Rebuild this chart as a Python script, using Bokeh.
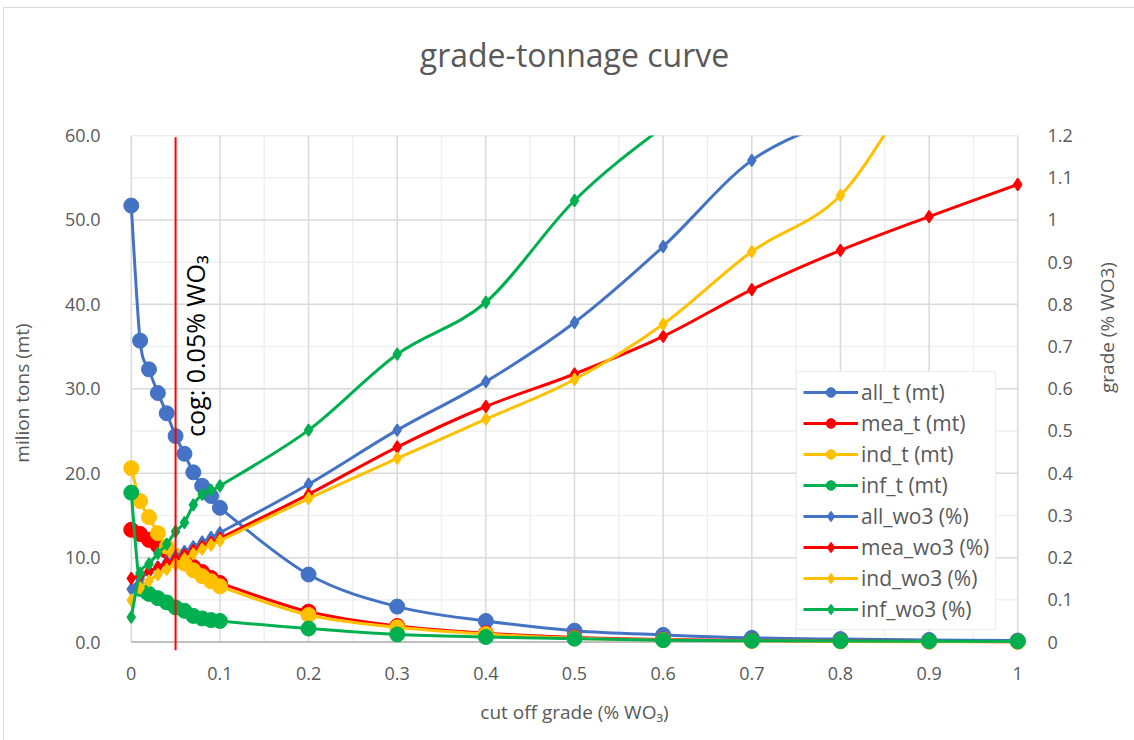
import math
from bokeh.plotting import figure
from bokeh.models import (Range1d, LinearAxis, FixedTicker, CustomJSTickFormatter,
                          ColumnDataSource, Legend, LegendItem, Label, Arrow)
from bokeh.embed import file_html
from bokeh.resources import INLINE

# cut-off grades (% WO3)
cutoff = [0, 0.01, 0.02, 0.03, 0.04, 0.05, 0.06, 0.07, 0.08, 0.09, 0.1,
          0.2, 0.3, 0.4, 0.5, 0.6, 0.7, 0.8, 0.9, 1.0]

# tonnage above cut-off (million tons)
all_t = [51.7, 35.7, 32.3, 29.5, 27.1, 24.4, 22.3, 20.1, 18.5, 17.3, 15.9,
         8.0, 4.2, 2.5, 1.35, 0.85, 0.5, 0.35, 0.25, 0.18]
mea_t = [13.3, 12.8, 12.1, 11.4, 10.8, 10.1, 9.5, 8.9, 8.3, 7.6, 7.0,
         3.6, 1.9, 1.05, 0.55, 0.3, 0.18, 0.12, 0.08, 0.05]
ind_t = [20.6, 16.7, 14.8, 12.9, 11.3, 10.2, 9.3, 8.5, 7.8, 7.2, 6.6,
         3.2, 1.75, 0.95, 0.45, 0.25, 0.12, 0.08, 0.05, 0.03]
inf_t = [17.7, 6.3, 5.7, 5.2, 4.7, 4.1, 3.7, 3.1, 2.8, 2.6, 2.5,
         1.6, 0.9, 0.6, 0.4, 0.22, 0.15, 0.12, 0.1, 0.08]

# mean grade above cut-off (% WO3)
all_wo3 = [0.125, 0.15, 0.165, 0.178, 0.19, 0.203, 0.215, 0.226, 0.237, 0.248, 0.259,
           0.374, 0.502, 0.617, 0.757, 0.937, 1.141, 1.24, 1.31, 1.38]
mea_wo3 = [0.151, 0.158, 0.168, 0.177, 0.187, 0.197, 0.207, 0.217, 0.227, 0.236, 0.246,
           0.35, 0.462, 0.558, 0.635, 0.724, 0.835, 0.928, 1.008, 1.084]
ind_wo3 = [0.099, 0.128, 0.145, 0.16, 0.172, 0.185, 0.197, 0.209, 0.22, 0.23, 0.24,
           0.34, 0.435, 0.528, 0.622, 0.753, 0.925, 1.058, 1.35, 1.5]
inf_wo3 = [0.059, 0.163, 0.185, 0.21, 0.232, 0.262, 0.283, 0.325, 0.35, 0.36, 0.37,
           0.502, 0.682, 0.805, 1.046, 1.22, 1.36, 1.48, 1.6, 1.7]

x_ticks = [0, 0.1, 0.2, 0.3, 0.4, 0.5, 0.6, 0.7, 0.8, 0.9, 1.0]
x_minor = [0.05, 0.15, 0.25, 0.35, 0.45, 0.55, 0.65, 0.75, 0.85, 0.95]
t_ticks = [0, 10, 20, 30, 40, 50, 60]
t_minor = [5, 15, 25, 35, 45, 55]
g_ticks = [0, 0.1, 0.2, 0.3, 0.4, 0.5, 0.6, 0.7, 0.8, 0.9, 1.0, 1.1, 1.2]

cog = 0.05

BLUE, RED, YELLOW, GREEN = "#4472C4", "#FF0000", "#FFC000", "#00B050"
TXT = "#595959"
FONT = "Open Sans"

# a little room outside 0..1 and below 0 so edge markers are drawn whole
XPAD, TPAD = 0.011, 1.0
GPAD = TPAD * g_ticks[-1] / t_ticks[-1]

p = figure(width=1131, height=733, margin=(7, 0, 0, 3),
           x_range=Range1d(x_ticks[0] - XPAD, x_ticks[-1] + XPAD),
           y_range=Range1d(t_ticks[0] - TPAD, t_ticks[-1]),
           output_backend="svg", toolbar_location=None,
           min_border_left=117, min_border_right=108,
           min_border_top=127, min_border_bottom=91)
p.styles = {"border-top": "1px solid #d9d9d9", "border-left": "1px solid #d9d9d9"}
p.extra_y_ranges = {"grade": Range1d(g_ticks[0] - GPAD, g_ticks[-1])}
p.outline_line_color = None
p.background_fill_color = "white"
p.border_fill_color = "white"

xaxis = p.below[0]
yaxis = p.left[0]

# chart heading, carried by a tick-less axis above the plot area
head = LinearAxis(ticker=FixedTicker(ticks=[]), axis_label="grade-tonnage curve")
p.add_layout(head, "above")

# axes
xaxis.ticker = FixedTicker(ticks=x_ticks, minor_ticks=x_minor)
yaxis.ticker = FixedTicker(ticks=t_ticks, minor_ticks=t_minor)
xaxis.formatter = CustomJSTickFormatter(code="return String(Number(tick.toFixed(2)));")
yaxis.formatter = CustomJSTickFormatter(code="return tick.toFixed(1);")

raxis = LinearAxis(y_range_name="grade",
                   ticker=FixedTicker(ticks=g_ticks),
                   formatter=CustomJSTickFormatter(code="return String(Number(tick.toFixed(2)));"))
p.add_layout(raxis, "right")

xaxis.axis_label = "cut off grade (% WO\u2083)"
yaxis.axis_label = "milion tons (mt)"
raxis.axis_label = "grade (% WO3)"
if "axis_label_orientation" in raxis.properties():
    raxis.axis_label_orientation = math.pi / 2

for ax in (xaxis, yaxis, raxis, head):
    ax.major_tick_line_color = None
    ax.minor_tick_line_color = None
    ax.axis_line_color = None
    ax.major_label_text_font = FONT
    ax.major_label_text_font_size = "18px"
    ax.major_label_text_color = TXT
    ax.axis_label_text_font = FONT
    ax.axis_label_text_font_size = "19px"
    ax.axis_label_text_font_style = "normal"
    ax.axis_label_text_color = TXT

head.axis_label_text_font_size = "32px"
head.major_label_standoff = 0
head.axis_label_standoff = 60

xaxis.major_label_standoff = 10
xaxis.axis_label_standoff = 16
yaxis.major_label_standoff = 15
yaxis.axis_label_standoff = 27
raxis.major_label_standoff = 14
raxis.axis_label_standoff = 31

# gridlines over the 0..1 x 0..60 plot area only
p.xgrid.visible = False
p.ygrid.visible = False
GRID, MINOR = "#d9d9d9", "#f0f0f0"
p.segment(x0=x_minor, y0=[t_ticks[0]] * len(x_minor), x1=x_minor,
          y1=[t_ticks[-1]] * len(x_minor), line_color=MINOR, line_width=1.5)
p.segment(x0=[x_ticks[0]] * len(t_minor), y0=t_minor, x1=[x_ticks[-1]] * len(t_minor),
          y1=t_minor, line_color=MINOR, line_width=1.5)
p.segment(x0=x_ticks, y0=[t_ticks[0]] * len(x_ticks), x1=x_ticks,
          y1=[t_ticks[-1]] * len(x_ticks), line_color=GRID, line_width=1.5)
p.segment(x0=[x_ticks[0]] * len(t_ticks), y0=t_ticks, x1=[x_ticks[-1]] * len(t_ticks),
          y1=t_ticks, line_color=GRID, line_width=1.5)
# horizontal axis line at zero tonnage
p.segment(x0=[x_ticks[0]], y0=[t_ticks[0]], x1=[x_ticks[-1]], y1=[t_ticks[0]],
          line_color="#bfbfbf", line_width=2)


def smooth_source(xs, ys):
    """Cubic Bezier segments through the points (Catmull-Rom style handles)."""
    n = len(xs)
    cols = {k: [] for k in ("x0", "y0", "x1", "y1", "cx0", "cy0", "cx1", "cy1")}
    for i in range(n - 1):
        a = max(i - 1, 0)
        d = min(i + 2, n - 1)
        cols["x0"].append(xs[i])
        cols["y0"].append(ys[i])
        cols["x1"].append(xs[i + 1])
        cols["y1"].append(ys[i + 1])
        cols["cx0"].append(xs[i] + (xs[i + 1] - xs[a]) / 6)
        cols["cy0"].append(ys[i] + (ys[i + 1] - ys[a]) / 6)
        cols["cx1"].append(xs[i + 1] - (xs[d] - xs[i]) / 6)
        cols["cy1"].append(ys[i + 1] - (ys[d] - ys[i]) / 6)
    return ColumnDataSource(cols)


series = [
    ("all_t (mt)", all_t, BLUE, "default", "circle"),
    ("mea_t (mt)", mea_t, RED, "default", "circle"),
    ("ind_t (mt)", ind_t, YELLOW, "default", "circle"),
    ("inf_t (mt)", inf_t, GREEN, "default", "circle"),
    ("all_wo3 (%)", all_wo3, BLUE, "grade", "diamond"),
    ("mea_wo3 (%)", mea_wo3, RED, "grade", "diamond"),
    ("ind_wo3 (%)", ind_wo3, YELLOW, "grade", "diamond"),
    ("inf_wo3 (%)", inf_wo3, GREEN, "grade", "diamond"),
]

items = []
for label, ys, color, rng, marker in series:
    src = smooth_source(cutoff, ys)
    lr = p.bezier(x0="x0", y0="y0", x1="x1", y1="y1", cx0="cx0", cy0="cy0",
                  cx1="cx1", cy1="cy1", source=src, line_color=color,
                  line_width=3, y_range_name=rng)
    if marker == "circle":
        mr = p.scatter(cutoff, ys, marker="circle", size=15, fill_color=color,
                       line_color=color, y_range_name=rng)
    else:
        mr = p.scatter(cutoff, ys, marker="diamond", size=12,
                       fill_color=color, line_color=color, line_width=1.5,
                       y_range_name=rng)
    items.append(LegendItem(label=label, renderers=[lr, mr]))

legend = Legend(items=items, location=(675, 20),
                border_line_color="#d9d9d9", border_line_width=1.5,
                background_fill_color="white", background_fill_alpha=1,
                glyph_width=55, glyph_height=24, label_height=24,
                spacing=3, padding=6, margin=0, label_standoff=3,
                label_text_font=FONT, label_text_font_size="21px",
                label_text_color=TXT)
p.add_layout(legend)

# cut-off marker line and its note
p.add_layout(Arrow(end=None, x_start=cog, y_start=59.8, x_end=cog, y_end=-TPAD,
                   line_color="red", line_width=2))
p.add_layout(Label(x=0.072, y=24.3, text="cog: 0.05% WO\u2083", angle=math.pi / 2,
                   text_align="left", text_baseline="middle",
                   text_font=FONT, text_font_size="25px", text_color="black"))

open("out.html", "w").write(file_html(p, INLINE))
